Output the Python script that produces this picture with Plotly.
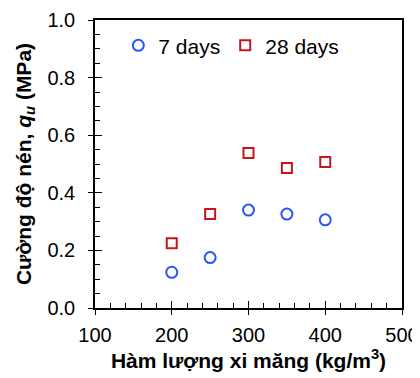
import plotly.graph_objects as go

cement = [200, 250, 300, 350, 400]
q7 = [0.124, 0.175, 0.340, 0.326, 0.306]
q28 = [0.225, 0.326, 0.538, 0.486, 0.507]

font_family = "Liberation Sans, Arial, sans-serif"

fig = go.Figure()
fig.add_trace(go.Scatter(
    x=cement, y=q7, mode="markers", name="7 days",
    marker=dict(symbol="circle-open", size=11, color="#2a55ff", line=dict(width=2, color="#2a55ff")),
))
fig.add_trace(go.Scatter(
    x=cement, y=q28, mode="markers", name="28 days",
    marker=dict(symbol="square-open", size=10, color="#c8141e", line=dict(width=2, color="#c8141e")),
))
# empty trace to anchor the overlay axes used for the outer half of the crossing ticks
fig.add_trace(go.Scatter(x=[], y=[], xaxis="x2", yaxis="y2", showlegend=False, hoverinfo="skip"))

tickfont = dict(family=font_family, size=20, color="black")
titlefont = dict(family=font_family, size=21, color="black")

fig.update_layout(
    width=412, height=370,
    margin=dict(l=87, r=18, t=12, b=70, autoexpand=False),
    plot_bgcolor="white", paper_bgcolor="white",
    font=dict(family=font_family, color="black"),
    showlegend=True,
    legend=dict(orientation="h", x=0.076, y=0.982, xanchor="left", yanchor="top",
                font=dict(family=font_family, size=21, color="black"),
                bgcolor="rgba(0,0,0,0)"),
    xaxis=dict(range=[100, 500], dtick=100, tick0=100, automargin=False,
               showline=True, linecolor="black", linewidth=1.5, mirror=True,
               ticks="inside", ticklen=7, tickwidth=1.2, tickcolor="black",
               showgrid=False, zeroline=False, tickfont=tickfont, ticklabelstandoff=8,
               minor=dict(dtick=20, ticks="inside", ticklen=5, tickcolor="black", tickwidth=1),
               title=dict(text="<b>Hàm lượng xi măng (kg/m<sup>3</sup>)</b>", font=titlefont, standoff=6)),
    yaxis=dict(range=[0, 1.0], dtick=0.2, tick0=0, tickformat=".1f", automargin=False,
               showline=True, linecolor="black", linewidth=1.5, mirror=True,
               ticks="inside", ticklen=7, tickwidth=1.2, tickcolor="black",
               showgrid=False, zeroline=False, tickfont=tickfont, ticklabelstandoff=14,
               minor=dict(dtick=0.05, ticks="inside", ticklen=5, tickcolor="black", tickwidth=1),
               title=dict(text="<b>Cường độ nén, <i>q<sub>u</sub></i> (MPa)</b>", font=titlefont, standoff=10)),
    xaxis2=dict(range=[100, 500], dtick=100, tick0=100, overlaying="x", side="bottom",
                anchor="y2", showticklabels=False, showline=False, showgrid=False, zeroline=False,
                ticks="outside", ticklen=6, tickwidth=1.2, tickcolor="black", automargin=False),
    yaxis2=dict(range=[0, 1.0], dtick=0.2, tick0=0, overlaying="y", side="left",
                anchor="x2", showticklabels=False, showline=False, showgrid=False, zeroline=False,
                ticks="outside", ticklen=6, tickwidth=1.2, tickcolor="black", automargin=False),
)

fig.write_html("out.html")
